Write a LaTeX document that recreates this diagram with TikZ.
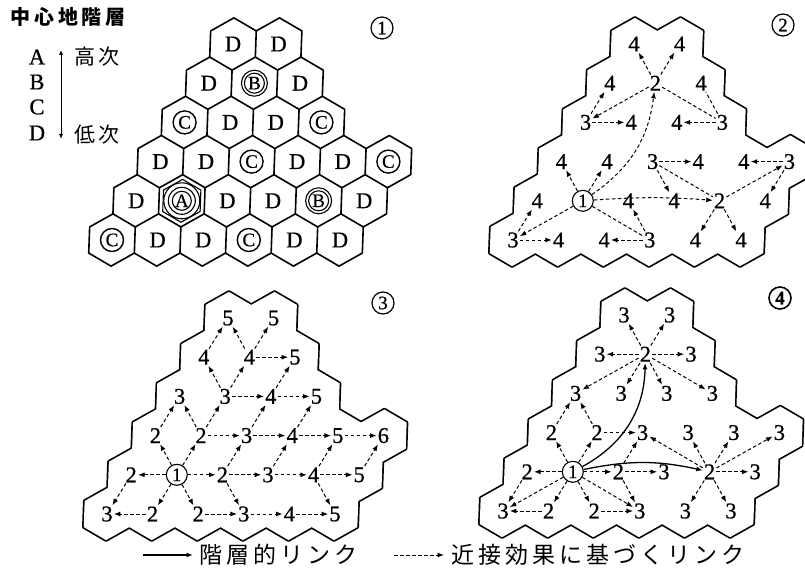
\documentclass[tikz,border=0pt]{standalone}
\usepackage{fontspec}
\setmainfont{Liberation Serif}
\newfontfamily\nf[FakeBold=0.7]{Liberation Serif}
\newfontfamily\jp{Noto Sans CJK JP}
\usetikzlibrary{arrows.meta}
\def\cells{0/0,1/0,2/0,3/0,4/0,5/0,0/1,1/1,2/1,3/1,4/1,5/1,0/2,1/2,2/2,3/2,4/2,5/2,0/3,1/3,2/3,3/3,0/4,1/4,2/4,0/5,1/5}
\newcommand\outlinecells{%
  \draw[line width=3.4pt, line join=round] \foreach \i/\j in \cells {(\i+1/3,\j+1/3) -- (\i-1/3,\j+2/3) -- (\i-2/3,\j+1/3) -- (\i-1/3,\j-1/3) -- (\i+1/3,\j-2/3) -- (\i+2/3,\j-1/3) -- cycle};
  \fill[white] \foreach \i/\j in \cells {(\i+1/3,\j+1/3) -- (\i-1/3,\j+2/3) -- (\i-2/3,\j+1/3) -- (\i-1/3,\j-1/3) -- (\i+1/3,\j-2/3) -- (\i+2/3,\j-1/3) -- cycle};
}
\tikzset{
  lnk/.style={line width=1pt, dash pattern=on 3.5pt off 2.5pt, -{Latex[length=6.5pt,width=5pt]}},
  lnkn/.style={line width=1pt, dash pattern=on 3.5pt off 2.5pt},
  hier/.style={line width=1.3pt, -{Latex[length=6.5pt,width=5pt]}},
  num/.style={font=\nf\fontsize{22.5}{22.5}\selectfont, inner sep=1pt},
  one/.style={circle, draw, line width=1.1pt, inner sep=0pt, minimum size=21pt, font=\nf\fontsize{19}{19}\selectfont},
  dlet/.style={font=\nf\fontsize{22.5}{22.5}\selectfont, inner sep=1pt},
  clet/.style={font=\nf\fontsize{19}{19}\selectfont, inner sep=0pt},
  pnum/.style={circle, draw, line width=1.2pt, inner sep=0pt, minimum size=22pt, font=\nf\fontsize{19}{19}\selectfont},
  jpt/.style={font=\jp\fontsize{21}{21}\selectfont, inner sep=0pt},
  jpl/.style={font=\jp\fontsize{23}{23}\selectfont, inner sep=0pt},
  ring/.style={line width=1.1pt},
}
\begin{document}
\begin{tikzpicture}[x=1pt,y=-1pt]
\useasboundingbox (0,0) rectangle (805,580);

% ---------- title and hierarchy legend ----------
\node[font=\jp\bfseries\fontsize{20}{20}\selectfont, inner sep=0pt] (title) at (68,17) {中\kern3.6pt心\kern3.6pt地\kern3.6pt階\kern3.6pt層};
\foreach \n/\t/\y in {la/A/57, lb/B/82, lc/C/107, ld/D/133}
  \node[dlet] (\n) at (37,\y) {\t};
\coordinate (ltop) at (61,50);
\coordinate (lbot) at (61,139);
\draw[line width=1pt, {Latex[length=5pt,width=4pt]}-{Latex[length=5pt,width=4pt]}] (ltop) -- (lbot);
\node[jpt] (hi) at (97,57) {高\kern3pt次};
\node[jpt] (lo) at (97,135) {低\kern3pt次};

% ---------- panel numbers ----------
\node[pnum] (n1) at (382,28) {1};
\node[pnum] (n2) at (783,25) {2};
\node[pnum] (n3) at (383,303) {3};
\node[pnum, line width=1.6pt] (n4) at (780,298) {\bfseries 4};

% ---------- panel 1 ----------
\begin{scope}[shift={(112,240)}, x={(45.6pt,0pt)}, y={(24.2pt,39.2pt)}]
  \draw[line width=1.6pt, line join=round] \foreach \i/\j in \cells {(\i+1/3,\j+1/3) -- (\i-1/3,\j+2/3) -- (\i-2/3,\j+1/3) -- (\i-1/3,\j-1/3) -- (\i+1/3,\j-2/3) -- (\i+2/3,\j-1/3) -- cycle};
  \draw[line width=1.1pt] (1+0.2733,1+0.2733) -- (1-0.2733,1+0.5467) -- (1-0.5467,1+0.2733) -- (1-0.2733,1-0.2733) -- (1+0.2733,1-0.5467) -- (1+0.5467,1-0.2733) -- cycle;
  \foreach \i/\j in {0/5,1/5,0/4,2/4,1/3,2/3,0/2,1/2,3/2,4/2,0/1,2/1,3/1,5/1,1/0,2/0,4/0,5/0}
    \node[dlet] (a\i\j) at (\i,\j) {D};
  \foreach \i/\j in {0/3,3/3,2/2,5/2,0/0,3/0}
    \node[clet] (a\i\j) at (\i,\j) {C};
  \foreach \i/\j in {1/4,4/1}
    \node[clet] (a\i\j) at (\i,\j) {B};
  \node[clet] (a11) at (1,1) {A};
\end{scope}
\foreach \n in {a03,a33,a22,a52,a00,a30}
  \draw[ring, line width=1.4pt] (\n.center) circle (11.5);
\foreach \n in {a14,a41}{
  \draw[ring] (\n.center) circle (10);
  \draw[ring] (\n.center) circle (13);
}
\draw[ring] (a11.center) circle (9.5);
\draw[ring] (a11.center) circle (13.5);
\draw[ring] (a11.center) circle (18);

% ---------- panel 2 ----------
\begin{scope}[shift={(513,240)}, x={(45.6pt,0pt)}, y={(24.2pt,39.2pt)}]
  \outlinecells
  \foreach \i/\j/\t in {0/5/4,1/5/4,0/4/4,1/4/2,2/4/4,0/3/3,1/3/4,2/3/4,3/3/3,0/2/4,1/2/4,2/2/3,3/2/4,4/2/4,5/2/3,0/1/4,2/1/4,3/1/4,4/1/2,5/1/4,0/0/3,1/0/4,2/0/4,3/0/3,4/0/4,5/0/4}
    \node[num] (b\i\j) at (\i,\j) {\t};
  \node[one] (b11) at (1,1) {1};
  \draw[lnk] (b11) -- (b02);
  \draw[lnk] (b11) -- (b12);
  \draw[lnk] (b11) to[bend right=24] (b14);
  \draw[lnk] (b11) to[bend left=4] (b41);
  \draw[lnk] (b11) -- (b00);
  \draw[lnkn] (b11) -- (b30);
  \draw[lnk] (b00) -- (b10);
  \draw[lnk] (b00) -- (b01);
  \draw[lnk] (b30) -- (b20);
  \draw[lnk] (b30) -- (b21);
  \draw[lnk] (b03) -- (b13);
  \draw[lnk] (b03) -- (b04);
  \draw[lnk] (b14) -- (b05);
  \draw[lnk] (b14) -- (b15);
  \draw[lnk] (b14) -- (b03);
  \draw[lnkn] (b14) -- (b33);
  \draw[lnk] (b33) -- (b23);
  \draw[lnkn] (b33) -- (b24);
  \draw[lnk] (b22) -- (b32);
  \draw[lnk] (b22) -- (b31);
  \draw[lnkn] (b22) -- (b41);
  \draw[lnk] (b52) -- (b42);
  \draw[lnk] (b52) -- (b51);
  \draw[lnk] (b41) -- (b52);
  \draw[lnk] (b41) -- (b40);
  \draw[lnk] (b41) -- (b50);
\end{scope}

% ---------- panel 3 ----------
\begin{scope}[shift={(107,514)}, x={(45.6pt,0pt)}, y={(24.2pt,39.2pt)}]
  \outlinecells
  \foreach \i/\j/\t in {0/5/5,1/5/5,0/4/4,1/4/4,2/4/5,0/3/3,1/3/3,2/3/4,3/3/5,0/2/2,1/2/2,2/2/3,3/2/4,4/2/5,5/2/6,0/1/2,2/1/2,3/1/3,4/1/4,5/1/5,0/0/3,1/0/2,2/0/2,3/0/3,4/0/4,5/0/5}
    \node[num] (c\i\j) at (\i,\j) {\t};
  \node[one] (c11) at (1,1) {1};
  \foreach \s/\e in {c11/c01,c11/c21,c11/c02,c11/c12,c11/c10,c11/c20,
    c01/c00,c10/c00,c02/c03,c12/c03,c12/c22,c12/c13,c22/c32,c22/c23,
    c13/c23,c13/c04,c13/c14,c04/c05,c14/c05,c14/c15,c14/c24,c23/c33,c23/c24,
    c32/c42,c32/c33,c42/c52,c21/c31,c21/c22,c21/c30,c20/c30,c30/c40,c40/c50,
    c31/c41,c31/c32,c41/c51,c41/c42,c41/c50,c51/c52}
    \draw[lnk] (\s) -- (\e);
\end{scope}

% ---------- panel 4 ----------
\begin{scope}[shift={(503,511)}, x={(45.6pt,0pt)}, y={(24.2pt,39.2pt)}]
  \outlinecells
  \foreach \i/\j/\t in {0/5/3,1/5/3,0/4/3,1/4/2,2/4/3,0/3/3,1/3/3,2/3/3,3/3/3,0/2/2,1/2/2,2/2/3,3/2/3,4/2/3,5/2/3,0/1/2,2/1/2,3/1/3,4/1/2,5/1/3,0/0/3,1/0/2,2/0/2,3/0/3,4/0/3,5/0/3}
    \node[num] (d\i\j) at (\i,\j) {\t};
  \node[one] (d11) at (1,1) {1};
  \draw[hier] (d11) to[bend right=30] (d14);
  \draw[hier] (d11) to[bend left=12] (d41);
  \foreach \s/\e in {d11/d01,d11/d21,d11/d02,d11/d12,d11/d10,d11/d20,d11/d00,d11/d30,
    d01/d00,d10/d00,d02/d03,d12/d03,d12/d22,d21/d22,d21/d31,d21/d30,d20/d30,
    d14/d05,d14/d15,d14/d04,d14/d24,d14/d03,d14/d13,d14/d23,d14/d33,
    d41/d22,d41/d32,d41/d42,d41/d52,d41/d51,d41/d40,d41/d50}
    \draw[lnk] (\s) -- (\e);
\end{scope}

% ---------- bottom legend ----------
\coordinate (s1) at (143,555);
\coordinate (s2) at (193,555);
\draw[hier] (s1) -- (s2);
\node[jpl, anchor=west] (t1) at (199,555) {階\kern4pt層\kern4pt的\kern4pt リ\kern4pt ン\kern4pt ク};
\coordinate (e1) at (394,555);
\coordinate (e2) at (444,555);
\draw[lnk] (e1) -- (e2);
\node[jpl, anchor=west] (t2) at (451,555) {近\kern4pt接\kern4pt効\kern4pt果\kern4pt に\kern4pt 基\kern4pt づ\kern4pt く\kern4pt リ\kern4pt ン\kern4pt ク};
\end{tikzpicture}
\end{document}
